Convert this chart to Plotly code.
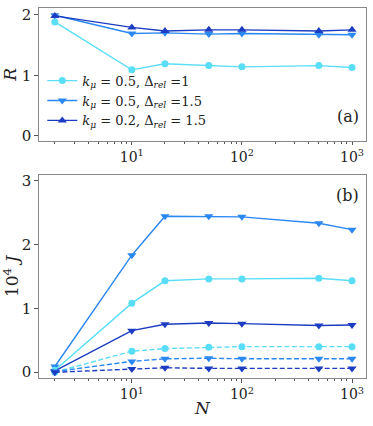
import plotly.graph_objects as go

N = [2, 10, 20, 50, 100, 500, 1000]

# Panel (a): R
R_k05_d1 = [1.88, 1.09, 1.19, 1.16, 1.14, 1.16, 1.13]
R_k05_d15 = [1.99, 1.69, 1.70, 1.68, 1.69, 1.67, 1.67]
R_k02_d15 = [1.98, 1.79, 1.73, 1.75, 1.75, 1.73, 1.75]

# Panel (b): 10^4 J (solid and dashed)
J_k05_d1_solid = [0.03, 1.08, 1.43, 1.46, 1.46, 1.47, 1.43]
J_k05_d15_solid = [0.09, 1.83, 2.44, 2.44, 2.43, 2.33, 2.23]
J_k02_d15_solid = [0.02, 0.65, 0.75, 0.77, 0.76, 0.73, 0.74]
J_k05_d1_dash = [0.0, 0.33, 0.37, 0.39, 0.40, 0.40, 0.40]
J_k05_d15_dash = [0.01, 0.17, 0.21, 0.22, 0.21, 0.21, 0.21]
J_k02_d15_dash = [0.0, 0.05, 0.07, 0.06, 0.06, 0.06, 0.06]

labels = [
    "<i>k</i><sub><i>μ</i></sub> = 0.5, Δ<sub><i>rel</i></sub> =1",
    "<i>k</i><sub><i>μ</i></sub> = 0.5, Δ<sub><i>rel</i></sub> =1.5",
    "<i>k</i><sub><i>μ</i></sub> = 0.2, Δ<sub><i>rel</i></sub> = 1.5",
]

C1 = "#5ADDF7"
C2 = "#2B87F2"
C3 = "#1C3CC2"
FONT = "DejaVu Serif"
DASH = "5px,2.5px"

fig = go.Figure()

def add(x, y, color, symbol, size, dash, name, show, xa, ya):
    fig.add_trace(go.Scatter(
        x=x, y=y, mode="lines+markers", name=name, showlegend=show,
        line=dict(color=color, width=1.4, dash=dash),
        marker=dict(color=color, symbol=symbol, size=size),
        xaxis=xa, yaxis=ya,
    ))

add(N, R_k05_d1, C1, "circle", 7, "solid", labels[0], True, "x", "y")
add(N, R_k05_d15, C2, "triangle-down", 8, "solid", labels[1], True, "x", "y")
add(N, R_k02_d15, C3, "triangle-up", 8, "solid", labels[2], True, "x", "y")

add(N, J_k05_d15_solid, C2, "triangle-down", 8, "solid", None, False, "x2", "y2")
add(N, J_k05_d1_solid, C1, "circle", 7, "solid", None, False, "x2", "y2")
add(N, J_k02_d15_solid, C3, "triangle-down", 8, "solid", None, False, "x2", "y2")
add(N, J_k05_d1_dash, C1, "circle", 7, DASH, None, False, "x2", "y2")
add(N, J_k05_d15_dash, C2, "triangle-down", 8, DASH, None, False, "x2", "y2")
add(N, J_k02_d15_dash, C3, "triangle-down", 8, DASH, None, False, "x2", "y2")

minor_vals = [v * d for d in (1, 10, 100) for v in range(2, 10)]

def xaxis_cfg(anchor, title=None):
    d = dict(
        type="log", range=[0.157, 3.127], anchor=anchor,
        tickvals=[10, 100, 1000],
        ticktext=["10<sup>1</sup>", "10<sup>2</sup>", "10<sup>3</sup>"],
        ticks="outside", ticklen=3.5, tickwidth=1, tickcolor="#555",
        minor=dict(tickvals=minor_vals, ticks="outside", ticklen=2, tickwidth=0.8, tickcolor="#555"),
        showgrid=False, zeroline=False, mirror=True, showline=True,
        linecolor="#888", linewidth=1.3,
        tickfont=dict(family=FONT, size=14, color="#222"),
    )
    if title:
        d["title"] = dict(text=title, font=dict(family=FONT, size=17, color="#222"), standoff=0)
    return d

def yaxis_cfg(anchor, rng, tickvals, title, domain):
    return dict(
        range=rng, anchor=anchor, domain=domain,
        tickvals=tickvals, ticktext=[str(v) for v in tickvals],
        ticks="outside", ticklen=3.5, tickwidth=1, tickcolor="#555",
        showgrid=False, zeroline=False, mirror=True, showline=True,
        linecolor="#888", linewidth=1.3,
        tickfont=dict(family=FONT, size=15, color="#222"),
        title=dict(text=title, font=dict(family=FONT, size=17, color="#222"), standoff=4),
    )

fig.update_layout(
    width=373, height=426,
    margin=dict(l=39, r=7, t=5, b=48),
    plot_bgcolor="white", paper_bgcolor="white",
    xaxis=xaxis_cfg("y"),
    yaxis=yaxis_cfg("x", [-0.08, 2.11], [0, 1, 2], "<i>R</i>", [0.641, 1.0]),
    xaxis2=xaxis_cfg("y2", "<i>N</i>"),
    yaxis2=yaxis_cfg("x2", [-0.09, 3.09], [0, 1, 2, 3], "10<sup>4</sup> <i>J</i>", [0.0, 0.5496]),
    legend=dict(
        x=0.01, y=0.655, xanchor="left", yanchor="bottom",
        bgcolor="rgba(255,255,255,0)", borderwidth=0,
        font=dict(family=FONT, size=13, color="#222"),
        tracegroupgap=0, itemwidth=30,
    ),
    annotations=[
        dict(text="(a)", x=0.985, y=0.675, xref="paper", yref="paper",
             xanchor="right", yanchor="bottom", showarrow=False,
             font=dict(family=FONT, size=16, color="#222")),
        dict(text="(b)", x=0.985, y=0.525, xref="paper", yref="paper",
             xanchor="right", yanchor="top", showarrow=False,
             font=dict(family=FONT, size=16, color="#222")),
    ],
)

fig.write_html("out.html", config={"displayModeBar": False})

# remove default page margin so the figure sits at the window's top-left corner
with open("out.html", "r", encoding="utf-8") as f:
    html = f.read()
html = html.replace("<head>", "<head><style>html,body{margin:0;padding:0;overflow:hidden;}</style>", 1)
with open("out.html", "w", encoding="utf-8") as f:
    f.write(html)
